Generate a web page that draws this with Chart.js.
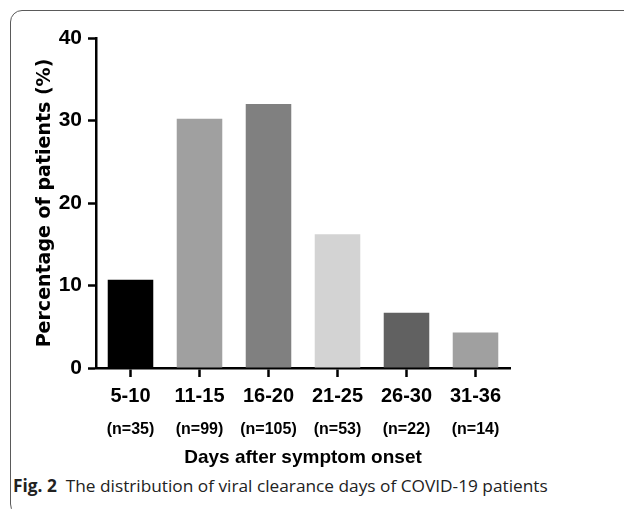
<!DOCTYPE html>
<html>
<head>
<meta charset="utf-8">
<script src="https://cdn.jsdelivr.net/npm/chart.js@4"></script>
<style>
html, body { margin: 0; padding: 0; background: #fff; width: 624px; height: 509px; overflow: hidden; }
#frame { position: absolute; left: 10px; top: 10px; width: 700px; height: 504px; border: 1.5px solid #5a5a5a; border-radius: 12px; }
#chart { position: absolute; left: 0; top: 0; }
#caption { position: absolute; left: 13px; top: 477px; font-family: "Open Sans", sans-serif; font-size: 17px; line-height: 17px; color: #222; white-space: nowrap; transform-origin: 0 0; }
#caption b { font-weight: 700; }
</style>
</head>
<body>
<div id="frame"></div>
<canvas id="chart" width="624" height="472"></canvas>
<div id="caption"><b>Fig. 2</b>&nbsp; The distribution of viral clearance days of COVID-19 patients</div>
<script>
const categories = ['5-10', '11-15', '16-20', '21-25', '26-30', '31-36'];
const patientCounts = ['(n=35)', '(n=99)', '(n=105)', '(n=53)', '(n=22)', '(n=14)'];
const percentages = [10.7, 30.2, 32.0, 16.2, 6.7, 4.3];
const barColors = ['#000000', '#a0a0a0', '#808080', '#d3d3d3', '#616161', '#a0a0a0'];
const yTicks = [0, 10, 20, 30, 40];

const ctx = document.getElementById('chart').getContext('2d');
const chart = new Chart(ctx, {
    type: 'bar',
    data: {
        labels: categories,
        datasets: [{
            data: percentages,
            backgroundColor: barColors,
            borderWidth: 0,
            barPercentage: 0.66,
            categoryPercentage: 1
        }]
    },
    options: {
        responsive: false,
        animation: false,
        devicePixelRatio: 1,
        layout: { padding: { left: 26, top: 38, right: 114, bottom: 2 } },
        plugins: { legend: { display: false }, tooltip: { enabled: false } },
        scales: {
            x: {
                weight: 0,
                grid: { drawOnChartArea: false, offset: false, tickLength: 9, tickWidth: 2.5, tickColor: '#000' },
                border: { color: '#000', width: 2.5 },
                ticks: { color: '#000', padding: 7, maxRotation: 0, font: { family: 'Liberation Sans', size: 20, weight: 'bold' } },
                afterFit: s => { s.height = 44; }
            },
            x2: {
                type: 'category',
                position: 'bottom',
                weight: 1,
                labels: patientCounts,
                offset: true,
                grid: { display: false },
                border: { display: false },
                ticks: { color: '#000', padding: 0, maxRotation: 0, font: { family: 'Liberation Sans', size: 16, weight: 'bold' } },
                title: {
                    display: true,
                    text: 'Days after symptom onset',
                    color: '#000',
                    padding: { top: 0, bottom: 1 },
                    font: { family: 'Liberation Sans', size: 19, weight: 'bold' }
                },
                afterFit: s => { s.height = 58; }
            },
            y: {
                min: 0,
                max: 40,
                grid: { drawOnChartArea: false, tickLength: 8, tickWidth: 2.5, tickColor: '#000' },
                border: { color: '#000', width: 2.5 },
                ticks: { color: '#000', padding: 6, font: { family: 'Liberation Sans', size: 21, weight: 'bold' } },
                afterBuildTicks: s => { s.ticks = yTicks.map(v => ({ value: v })); },
                title: {
                    display: true,
                    text: 'Percentage of patients (%)',
                    color: '#000',
                    padding: { top: 8, bottom: 0 },
                    font: { family: 'DejaVu Sans', size: 19, weight: 'bold' }
                },
                afterFit: s => { s.width = 70; }
            }
        }
    }
});

// squeeze the caption to the width it has in the figure
const cap = document.getElementById('caption');
cap.style.transform = 'scaleX(' + (535 / cap.offsetWidth) + ')';
</script>
</body>
</html>
